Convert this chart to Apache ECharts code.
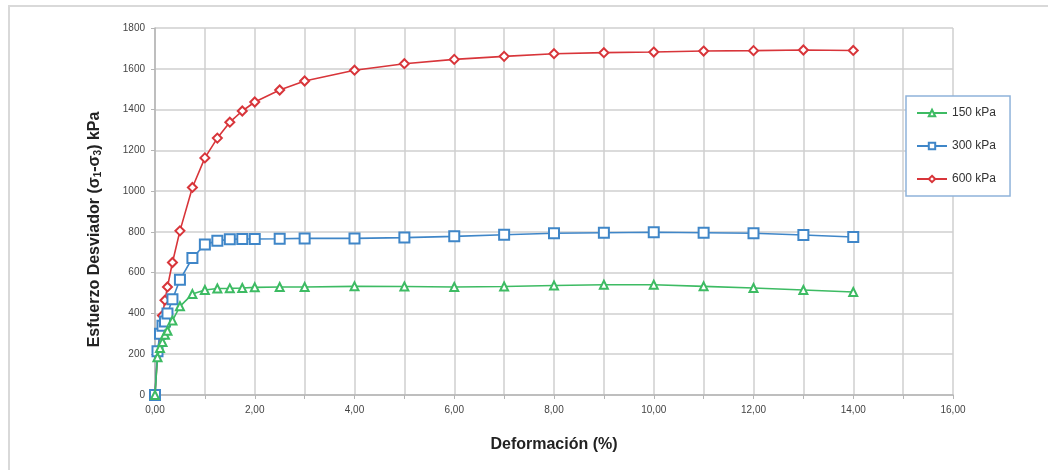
<!DOCTYPE html>
<html>
<head>
<meta charset="utf-8">
<script src="https://cdn.jsdelivr.net/npm/echarts@6/dist/echarts.min.js"></script>
<style>
  html, body { margin:0; padding:0; background:#fff; }
  #frame { position:absolute; left:8px; top:5px; width:1060px; height:480px; border:2px solid #d9d9d9; box-sizing:border-box; }
  #chart { position:absolute; left:0; top:0; width:1048px; height:470px; }
</style>
</head>
<body>
<div id="frame"></div>
<div id="chart"></div>
<script>
const strain = [0, 0.05, 0.1, 0.15, 0.2, 0.25, 0.35, 0.5, 0.75, 1.0, 1.25, 1.5, 1.75, 2.0, 2.5, 3, 4, 5, 6, 7, 8, 9, 10, 11, 12, 13, 14];
const s150 = [0, 185, 230, 260, 295, 315, 365, 435, 495, 515, 522, 523, 525, 528, 530, 530, 533, 532, 530, 532, 537, 541, 541, 533, 525, 515, 505];
const s300 = [0, 215, 300, 340, 360, 400, 470, 565, 672, 738, 756, 764, 765, 765, 766, 768, 768, 772, 778, 786, 793, 796, 798, 796, 793, 785, 775];
const s600 = [0, 198, 300, 390, 465, 530, 650, 805, 1018, 1163, 1260, 1338, 1393, 1437, 1496, 1540, 1593, 1625, 1646, 1661, 1674, 1679, 1682, 1687, 1689, 1692, 1690];
const seriesNames = ['150 kPa', '300 kPa', '600 kPa'];
const colors = ['#3dbb63', '#3f86c8', '#d8353a'];
const symbols = ['emptyTriangle', 'emptyRect', 'emptyDiamond'];
const symbolSizes = [8, 10, 9];

function pairs(ys) { return strain.map((x, i) => [x, ys[i]]); }
const allData = [s150, s300, s600];
const FONT = 'Liberation Sans, Arial, sans-serif';

const chart = echarts.init(document.getElementById('chart'), null, { renderer: 'canvas' });
chart.setOption({
  animation: false,
  backgroundColor: 'transparent',
  textStyle: { fontFamily: FONT },
  grid: { left: 155, right: 95, top: 28, bottom: 75, containLabel: false },
  legend: {
    orient: 'vertical',
    left: 906, top: 96,
    padding: [10, 14, 10, 10],
    itemGap: 19,
    itemWidth: 30, itemHeight: 8,
    borderColor: '#8fb3da', borderWidth: 1.5,
    backgroundColor: '#fff',
    textStyle: { fontSize: 12, color: '#333', fontFamily: FONT, lineHeight: 14 },
    data: seriesNames
  },
  xAxis: {
    type: 'value', min: 0, max: 16, interval: 1,
    name: 'Deformación (%)', nameLocation: 'middle', nameGap: 42,
    nameTextStyle: { fontSize: 16, fontWeight: 'bold', color: '#222', fontFamily: FONT },
    axisLine: { lineStyle: { color: '#b5b5b5', width: 1.5 } },
    axisTick: { show: true, length: 4, lineStyle: { color: '#b5b5b5' } },
    axisLabel: { fontSize: 10, color: '#444', margin: 10,
      formatter: v => (Math.round(v) % 2 === 0 ? v.toFixed(2).replace('.', ',') : '') },
    splitLine: { show: true, lineStyle: { color: '#cfcfcf', width: 1.5 } }
  },
  yAxis: {
    type: 'value', min: 0, max: 1800, interval: 200,
    name: 'Esfuerzo Desviador (σ{sub|1}-σ{sub|3}) kPa', nameLocation: 'middle', nameGap: 52, nameRotate: 90,
    nameTextStyle: { fontSize: 16, fontWeight: 'bold', color: '#222', fontFamily: FONT,
      padding: [0, 0, 0, -36],
      rich: { sub: { fontSize: 10, fontWeight: 'bold', color: '#222', verticalAlign: 'bottom', padding: [7, 0, 0, 0] } } },
    axisLine: { show: true, lineStyle: { color: '#b5b5b5', width: 1.5 } },
    axisTick: { show: true, length: 4, lineStyle: { color: '#b5b5b5' } },
    axisLabel: { fontSize: 10, color: '#444', margin: 10, formatter: v => String(v) },
    splitLine: { show: true, lineStyle: { color: '#cfcfcf', width: 1.5 } }
  },
  series: allData.map((d, i) => ({
    name: seriesNames[i],
    type: 'line',
    data: pairs(d),
    symbol: symbols[i],
    symbolSize: symbolSizes[i],
    color: colors[i],
    lineStyle: { width: 1.6, color: colors[i] },
    itemStyle: { color: colors[i], borderColor: colors[i], borderWidth: 1.3 },
    z: 2 + (2 - i)
  }))
});
</script>
</body>
</html>
